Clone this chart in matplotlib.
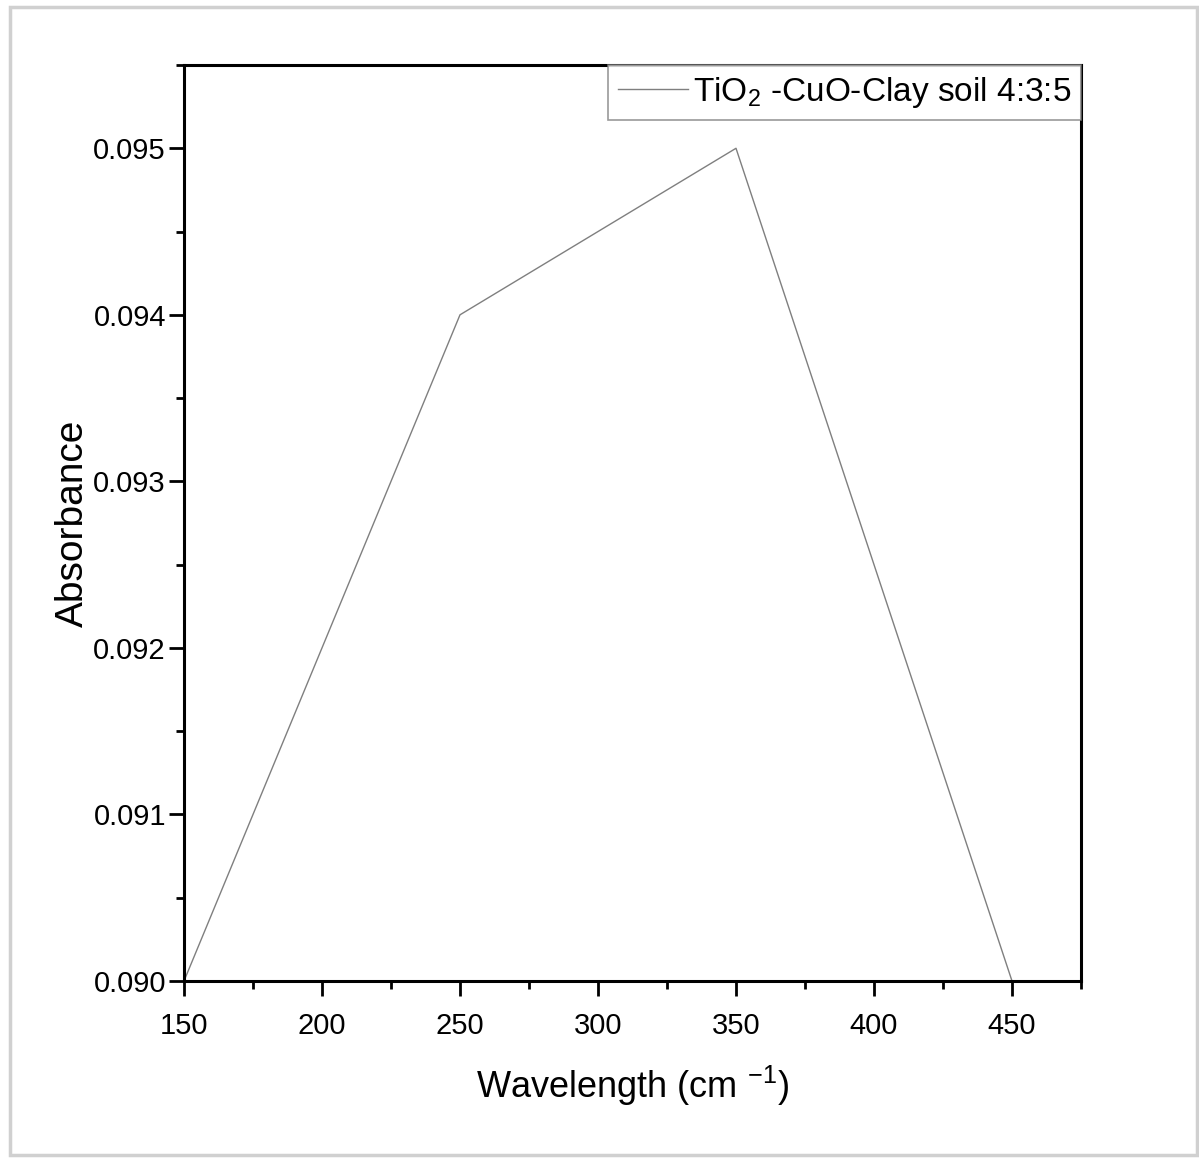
import matplotlib
matplotlib.use("Agg")
import matplotlib.pyplot as plt
from matplotlib.patches import Rectangle
from matplotlib.ticker import MultipleLocator, FormatStrFormatter

# Data
wavelength = [150, 250, 350, 450]
absorbance = [0.090, 0.094, 0.095, 0.090]
series_label = r"TiO$_{2}$ -CuO-Clay soil 4:3:5"

plt.rcParams['font.family'] = ['Liberation Sans', 'DejaVu Sans']
plt.rcParams['mathtext.fontset'] = 'custom'
plt.rcParams['mathtext.rm'] = 'Liberation Sans'
plt.rcParams['mathtext.it'] = 'Liberation Sans'

fig = plt.figure(figsize=(11.99, 11.62), dpi=100)
ax = fig.add_axes([184 / 1199, 1 - 981 / 1162, (1081 - 184) / 1199, (981 - 65) / 1162])

# light frame around the whole picture
fig.patches.append(Rectangle((10 / 1199, 7 / 1162), 1187 / 1199, 1148 / 1162,
                             transform=fig.transFigure, fill=False,
                             edgecolor='#d0d0d0', linewidth=2.5))

ax.plot(wavelength, absorbance, color='#7f7f7f', linewidth=1.0, label=series_label)

ax.set_xlim(150, 475)
ax.set_ylim(0.090, 0.0955)
ax.xaxis.set_major_locator(MultipleLocator(50))
ax.xaxis.set_minor_locator(MultipleLocator(25))
ax.yaxis.set_major_locator(MultipleLocator(0.001))
ax.yaxis.set_minor_locator(MultipleLocator(0.0005))
ax.yaxis.set_major_formatter(FormatStrFormatter('%.3f'))

ax.tick_params(which='major', direction='out', length=11, width=2, labelsize=21)
ax.tick_params(axis='x', which='major', pad=11)
ax.tick_params(axis='y', which='major', pad=2)
ax.tick_params(which='minor', direction='out', length=6, width=2)
for s in ax.spines.values():
    s.set_linewidth(2.2)

ax.set_xlabel(r"Wavelength (cm $^{-1}$)", fontsize=26)
ax.set_ylabel("Absorbance", fontsize=28)
ax.xaxis.set_label_coords(0.5, -0.09)
ax.yaxis.set_label_coords(-0.104, 0.5)

leg = ax.legend(loc='upper right', fontsize=24, frameon=True, fancybox=False,
                borderaxespad=0.0, handlelength=2.1, handletextpad=0.15,
                borderpad=0.3)
leg.get_frame().set_edgecolor('#808080')
leg.get_frame().set_linewidth(1.2)

fig.savefig("out.png", dpi=100)
